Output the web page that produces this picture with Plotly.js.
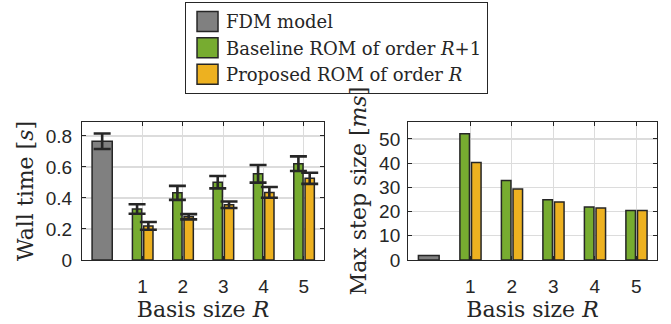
<!DOCTYPE html>
<html><head><meta charset="utf-8">
<script src="https://cdn.plot.ly/plotly-3.0.1.min.js"></script>
<style>body{margin:0;padding:0;background:#fff}#chart{width:671px;height:324px}</style>
</head><body><div id="chart"></div>
<script>
// ---- data ----
const basisSizes = [1, 2, 3, 4, 5];
const basisTickLabels = ['1', '2', '3', '4', '5'];
const fdmPosition = [0];
const seriesNames = ['FDM model', 'Baseline ROM of order <i>R</i>+1', 'Proposed ROM of order <i>R</i>'];

const fdmWallTime = [0.766];
const fdmWallErr = [0.050];
const baselineWallTime = [0.329, 0.433, 0.502, 0.556, 0.621];
const baselineWallErr = [0.031, 0.045, 0.040, 0.057, 0.047];
const proposedWallTime = [0.220, 0.279, 0.356, 0.436, 0.527];
const proposedWallErr = [0.025, 0.017, 0.021, 0.035, 0.036];

const fdmStep = [1.9];
const baselineStep = [52.1, 32.8, 24.9, 21.9, 20.4];
const proposedStep = [40.3, 29.3, 24.0, 21.5, 20.4];

// ---- styles ----
const C_FDM = '#808080', C_BASE = '#77AC30', C_PROP = '#EDB120', C_INK = '#262626';
const outline = {color: C_INK, width: 1.5};
const errStyle = arr => ({type: 'data', array: arr, visible: true, color: C_INK, thickness: 2.6, width: 8.5});

const traces = [
  {type: 'bar', name: seriesNames[0], legendgroup: 'fdm', x: fdmPosition, y: fdmWallTime, width: 0.5,
   error_y: errStyle(fdmWallErr), marker: {color: C_FDM, line: outline}, xaxis: 'x', yaxis: 'y', hoverinfo: 'skip'},
  {type: 'bar', name: seriesNames[1], legendgroup: 'base', x: basisSizes, y: baselineWallTime, offset: -0.25, width: 0.23,
   error_y: errStyle(baselineWallErr), marker: {color: C_BASE, line: outline}, xaxis: 'x', yaxis: 'y', hoverinfo: 'skip'},
  {type: 'bar', name: seriesNames[2], legendgroup: 'prop', x: basisSizes, y: proposedWallTime, offset: 0.03, width: 0.23,
   error_y: errStyle(proposedWallErr), marker: {color: C_PROP, line: outline}, xaxis: 'x', yaxis: 'y', hoverinfo: 'skip'},
  {type: 'bar', name: seriesNames[0], legendgroup: 'fdm', showlegend: false, x: fdmPosition, y: fdmStep, width: 0.5,
   marker: {color: C_FDM, line: outline}, xaxis: 'x2', yaxis: 'y2', hoverinfo: 'skip'},
  {type: 'bar', name: seriesNames[1], legendgroup: 'base', showlegend: false, x: basisSizes, y: baselineStep, offset: -0.25, width: 0.23,
   marker: {color: C_BASE, line: outline}, xaxis: 'x2', yaxis: 'y2', hoverinfo: 'skip'},
  {type: 'bar', name: seriesNames[2], legendgroup: 'prop', showlegend: false, x: basisSizes, y: proposedStep, offset: 0.03, width: 0.23,
   marker: {color: C_PROP, line: outline}, xaxis: 'x2', yaxis: 'y2', hoverinfo: 'skip'}
];

const tickFont = {family: 'Liberation Sans', size: 19, color: C_INK};
const titleFont = {family: 'DejaVu Serif', size: 22, color: C_INK};
const common = {
  ticks: 'inside', ticklen: 4, tickcolor: C_INK, tickwidth: 1,
  showline: true, linecolor: C_INK, linewidth: 1, mirror: 'ticks',
  showgrid: true, gridcolor: '#dcdcdc', gridwidth: 1.2, zeroline: false,
  tickfont: tickFont, fixedrange: true
};
const xCommon = Object.assign({}, common, {
  range: [-0.5, 5.5], tickmode: 'array', tickvals: basisSizes, ticktext: basisTickLabels,
  ticklabelstandoff: 9, automargin: 'top',
  title: {text: 'Basis size <i>R</i>', font: titleFont, standoff: 2}
});

const layout = {
  width: 671, height: 324,
  margin: {l: 82, r: 2, t: 122, b: 64},
  paper_bgcolor: '#fff', plot_bgcolor: '#fff',
  barmode: 'overlay', showlegend: true,
  legend: {x: 0.4336, xanchor: 'center', y: 1.868, yanchor: 'top', tracegroupgap: 0,
    bgcolor: '#fff', bordercolor: C_INK, borderwidth: 1,
    font: {family: 'DejaVu Serif', size: 18, color: C_INK}},
  xaxis: Object.assign({}, xCommon, {domain: [0, 0.4123], anchor: 'y'}),
  xaxis2: Object.assign({}, xCommon, {domain: [0.5554, 0.9796], anchor: 'y2'}),
  yaxis: Object.assign({}, common, {domain: [0, 1], anchor: 'x', range: [0, 0.89], tick0: 0, dtick: 0.2,
    ticklabelstandoff: 5, automargin: 'left',
    title: {text: 'Wall time [<i>s</i>]', font: titleFont, standoff: 6}}),
  yaxis2: Object.assign({}, common, {domain: [0, 1], anchor: 'x2', range: [0, 57], tick0: 0, dtick: 10,
    ticklabelstandoff: 3, automargin: 'left',
    title: {text: 'Max step size [<i>ms</i>]', font: titleFont, standoff: 6}})
};

Plotly.newPlot('chart', traces, layout, {displayModeBar: false, staticPlot: true}).then(function () {
  document.querySelectorAll('#chart .legend .legendpoints path').forEach(function (p) {
    p.setAttribute('d', 'M12,10H-9V-10H12Z');
  });
});
</script></body></html>
